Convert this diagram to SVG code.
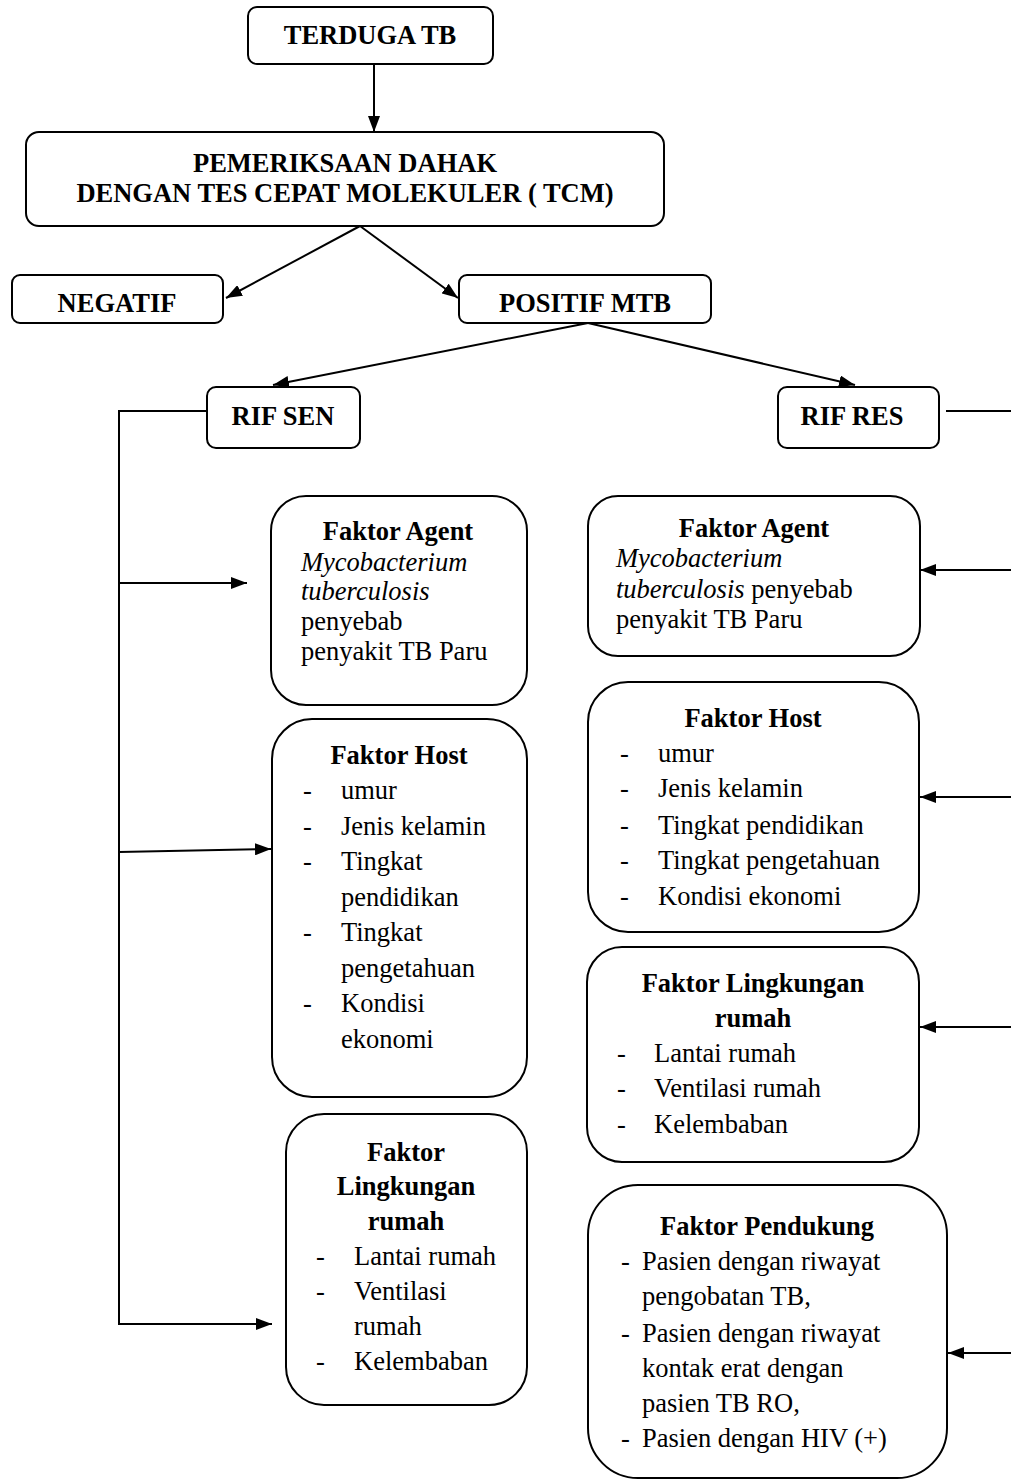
<svg xmlns="http://www.w3.org/2000/svg" width="1011" height="1480" viewBox="0 0 1011 1480">
<style>
.box{fill:#fff;stroke:#000;stroke-width:2}
.t{font-family:"Liberation Serif","Times New Roman",serif;fill:#000}
.b{font-weight:bold;font-size:26.5px}
.r{font-size:26.5px}
.c{text-anchor:middle}
.i{font-style:italic}
.ln{stroke:#000;stroke-width:2;fill:none}
</style>
<defs>
<marker id="ah" viewBox="0 0 16 12" refX="16" refY="6" markerWidth="16" markerHeight="12" markerUnits="userSpaceOnUse" orient="auto">
<path d="M0,0 L16,6 L0,12 z" fill="#000"/>
</marker>
</defs>
<rect width="1011" height="1480" fill="#fff"/>

<g id="connectors">
<line class="ln" x1="374" y1="64" x2="374" y2="132" marker-end="url(#ah)"/>
<line class="ln" x1="360" y1="226" x2="226" y2="298" marker-end="url(#ah)"/>
<line class="ln" x1="360" y1="226" x2="458" y2="298" marker-end="url(#ah)"/>
<line class="ln" x1="588" y1="323" x2="273" y2="385" marker-end="url(#ah)"/>
<line class="ln" x1="588" y1="323" x2="855" y2="385" marker-end="url(#ah)"/>
<polyline class="ln" points="207,411 119,411 119,1324"/>
<line class="ln" x1="119" y1="583" x2="247" y2="583" marker-end="url(#ah)"/>
<line class="ln" x1="119" y1="852" x2="271" y2="849" marker-end="url(#ah)"/>
<line class="ln" x1="118" y1="1324" x2="272" y2="1324" marker-end="url(#ah)"/>
<line class="ln" x1="946" y1="411" x2="1011" y2="411"/>
<line class="ln" x1="1011" y1="570" x2="920" y2="570" marker-end="url(#ah)"/>
<line class="ln" x1="1011" y1="797" x2="920" y2="797" marker-end="url(#ah)"/>
<line class="ln" x1="1011" y1="1027" x2="920" y2="1027" marker-end="url(#ah)"/>
<line class="ln" x1="1011" y1="1353" x2="948" y2="1353" marker-end="url(#ah)"/>
</g>

<g id="terduga">
<rect class="box" x="248" y="7" width="245" height="57" rx="9"/>
<text class="t b c" x="370" y="44">TERDUGA TB</text>
</g>

<g id="pemeriksaan">
<rect class="box" x="26" y="132" width="638" height="94" rx="13"/>
<text class="t b c" x="345" y="172">PEMERIKSAAN DAHAK</text>
<text class="t b c" x="345" y="202">DENGAN TES CEPAT MOLEKULER ( TCM)</text>
</g>

<g id="negatif">
<rect class="box" x="12" y="275" width="211" height="48" rx="8"/>
<text class="t b c" x="117" y="312">NEGATIF</text>
</g>

<g id="positif">
<rect class="box" x="459" y="275" width="252" height="48" rx="8"/>
<text class="t b c" x="585" y="312">POSITIF MTB</text>
</g>

<g id="rifsen">
<rect class="box" x="207" y="387" width="153" height="61" rx="9"/>
<text class="t b c" x="283" y="425">RIF SEN</text>
</g>

<g id="rifres">
<rect class="box" x="778" y="387" width="161" height="61" rx="9"/>
<text class="t b c" x="852" y="425">RIF RES</text>
</g>

<g id="agent-sen">
<rect class="box" x="271" y="496" width="256" height="209" rx="35"/>
<text class="t b c" x="398" y="540">Faktor Agent</text>
<text class="t r i" x="301" y="571">Mycobacterium</text>
<text class="t r i" x="301" y="600">tuberculosis</text>
<text class="t r" x="301" y="630">penyebab</text>
<text class="t r" x="301" y="660">penyakit TB Paru</text>
</g>

<g id="host-sen">
<rect class="box" x="272" y="719" width="255" height="378" rx="40"/>
<text class="t b c" x="399" y="764">Faktor Host</text>
<g class="t r">
<text x="303" y="799">-</text><text x="341" y="799">umur</text>
<text x="303" y="835">-</text><text x="341" y="835">Jenis kelamin</text>
<text x="303" y="870">-</text><text x="341" y="870">Tingkat</text>
<text x="341" y="906">pendidikan</text>
<text x="303" y="941">-</text><text x="341" y="941">Tingkat</text>
<text x="341" y="977">pengetahuan</text>
<text x="303" y="1012">-</text><text x="341" y="1012">Kondisi</text>
<text x="341" y="1048">ekonomi</text>
</g>
</g>

<g id="lingkungan-sen">
<rect class="box" x="286" y="1114" width="241" height="291" rx="38"/>
<text class="t b c" x="406" y="1161">Faktor</text>
<text class="t b c" x="406" y="1195">Lingkungan</text>
<text class="t b c" x="406" y="1230">rumah</text>
<g class="t r">
<text x="316" y="1265">-</text><text x="354" y="1265">Lantai rumah</text>
<text x="316" y="1300">-</text><text x="354" y="1300">Ventilasi</text>
<text x="354" y="1335">rumah</text>
<text x="316" y="1370">-</text><text x="354" y="1370">Kelembaban</text>
</g>
</g>

<g id="agent-res">
<rect class="box" x="588" y="496" width="332" height="160" rx="30"/>
<text class="t b c" x="754" y="537">Faktor Agent</text>
<text class="t r i" x="616" y="567">Mycobacterium</text>
<text class="t r" x="616" y="598"><tspan font-style="italic">tuberculosis</tspan> penyebab</text>
<text class="t r" x="616" y="628">penyakit TB Paru</text>
</g>

<g id="host-res">
<rect class="box" x="588" y="682" width="331" height="250" rx="40"/>
<text class="t b c" x="753" y="727">Faktor Host</text>
<g class="t r">
<text x="620" y="762">-</text><text x="658" y="762">umur</text>
<text x="620" y="797">-</text><text x="658" y="797">Jenis kelamin</text>
<text x="620" y="834">-</text><text x="658" y="834">Tingkat pendidikan</text>
<text x="620" y="869">-</text><text x="658" y="869">Tingkat pengetahuan</text>
<text x="620" y="905">-</text><text x="658" y="905">Kondisi ekonomi</text>
</g>
</g>

<g id="lingkungan-res">
<rect class="box" x="587" y="947" width="332" height="215" rx="35"/>
<text class="t b c" x="753" y="992">Faktor Lingkungan</text>
<text class="t b c" x="753" y="1027">rumah</text>
<g class="t r">
<text x="617" y="1062">-</text><text x="654" y="1062">Lantai rumah</text>
<text x="617" y="1097">-</text><text x="654" y="1097">Ventilasi rumah</text>
<text x="617" y="1133">-</text><text x="654" y="1133">Kelembaban</text>
</g>
</g>

<g id="pendukung">
<rect class="box" x="588" y="1185" width="359" height="293" rx="50"/>
<text class="t b c" x="767" y="1235">Faktor Pendukung</text>
<g class="t r">
<text x="621" y="1270">-</text><text x="642" y="1270">Pasien dengan riwayat</text>
<text x="642" y="1305">pengobatan TB,</text>
<text x="621" y="1342">-</text><text x="642" y="1342">Pasien dengan riwayat</text>
<text x="642" y="1377">kontak erat dengan</text>
<text x="642" y="1412">pasien TB RO,</text>
<text x="621" y="1447">-</text><text x="642" y="1447">Pasien dengan HIV (+)</text>
</g>
</g>
</svg>
